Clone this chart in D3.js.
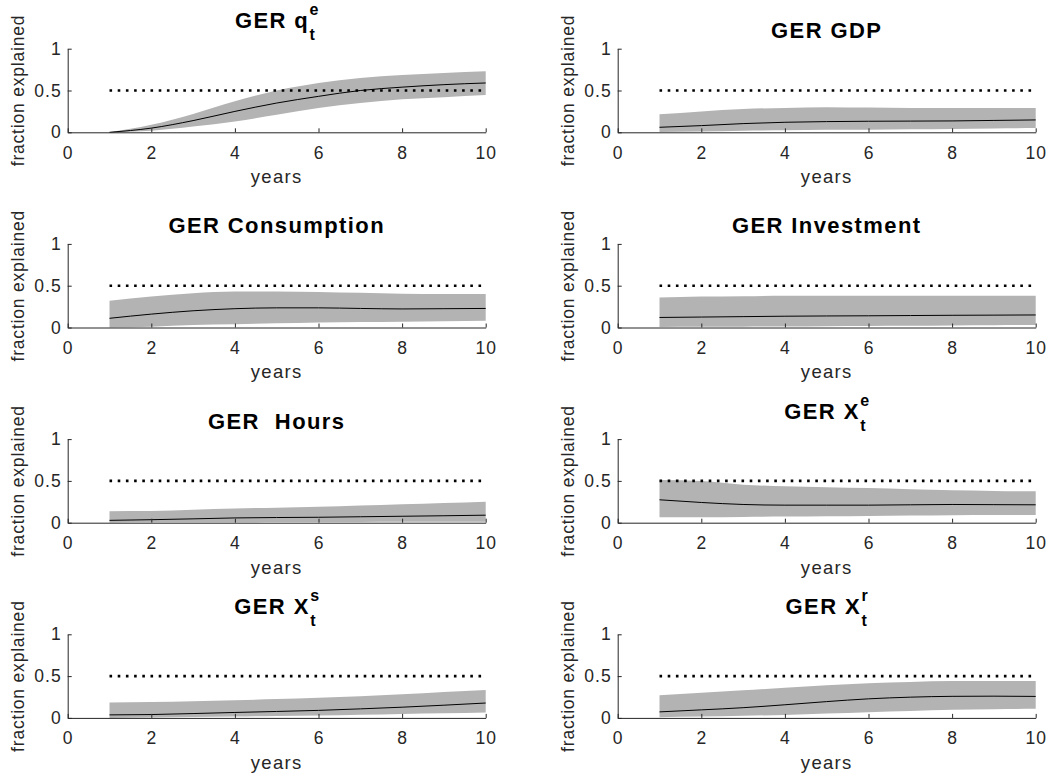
<!DOCTYPE html>
<html>
<head>
<meta charset="utf-8">
<script src="https://cdn.jsdelivr.net/npm/d3@7"></script>
<style>
  html, body { margin: 0; padding: 0; background: #ffffff; }
  svg { display: block; }
  text { font-family: "Liberation Sans", Arial, Helvetica, sans-serif; white-space: pre; }
</style>
</head>
<body>
<script>
// Horizons (years) and axis ticks
const years = [1, 2, 3, 4, 5, 6, 7, 8, 9, 10];
const xTicks = [0, 2, 4, 6, 8, 10];
const yTicks = [0, 0.5, 1];
const yTickLabels = ["0", "0.5", "1"];
const threshold = 0.5;

// Panel titles: main text, subscript, superscript
const titleMain = ["GER q", "GER GDP", "GER Consumption", "GER Investment", "GER  Hours", "GER X", "GER X", "GER X"];
const titleSub  = ["t", "", "", "", "", "t", "t", "t"];
const titleSup  = ["e", "", "", "", "", "e", "s", "r"];

// Fraction of variance explained: median and band bounds, per variable
const qeMedian = [0.00, 0.05, 0.14, 0.25, 0.35, 0.43, 0.50, 0.54, 0.57, 0.59];
const qeUpper  = [0.00, 0.09, 0.22, 0.37, 0.50, 0.59, 0.65, 0.685, 0.71, 0.73];
const qeLower  = [0.00, 0.02, 0.07, 0.13, 0.21, 0.29, 0.35, 0.395, 0.42, 0.445];

const gdpMedian = [0.06, 0.08, 0.104, 0.12, 0.128, 0.132, 0.134, 0.136, 0.142, 0.148];
const gdpUpper  = [0.215, 0.25, 0.28, 0.29, 0.30, 0.296, 0.292, 0.29, 0.29, 0.29];
const gdpLower  = [0.005, 0.01, 0.02, 0.025, 0.03, 0.03, 0.035, 0.04, 0.045, 0.05];

const consMedian = [0.11, 0.16, 0.20, 0.225, 0.235, 0.235, 0.228, 0.222, 0.225, 0.228];
const consUpper  = [0.32, 0.37, 0.41, 0.43, 0.43, 0.425, 0.415, 0.405, 0.40, 0.40];
const consLower  = [0.00, 0.01, 0.03, 0.04, 0.05, 0.06, 0.065, 0.07, 0.075, 0.08];

const invMedian = [0.12, 0.125, 0.13, 0.135, 0.138, 0.14, 0.143, 0.146, 0.148, 0.15];
const invUpper  = [0.36, 0.37, 0.375, 0.38, 0.38, 0.38, 0.38, 0.38, 0.38, 0.38];
const invLower  = [0.005, 0.008, 0.01, 0.012, 0.015, 0.018, 0.02, 0.025, 0.028, 0.03];

const hoursMedian = [0.028, 0.036, 0.046, 0.057, 0.062, 0.065, 0.071, 0.077, 0.083, 0.09];
const hoursUpper  = [0.138, 0.14, 0.155, 0.17, 0.18, 0.19, 0.205, 0.22, 0.235, 0.25];
const hoursLower  = [0.003, 0.004, 0.005, 0.006, 0.007, 0.008, 0.009, 0.01, 0.01, 0.011];

const xeMedian = [0.274, 0.242, 0.218, 0.21, 0.21, 0.21, 0.214, 0.218, 0.216, 0.214];
const xeUpper  = [0.51, 0.50, 0.455, 0.435, 0.425, 0.415, 0.40, 0.387, 0.38, 0.375];
const xeLower  = [0.065, 0.065, 0.069, 0.073, 0.077, 0.08, 0.085, 0.089, 0.091, 0.093];

const xsMedian = [0.036, 0.04, 0.052, 0.065, 0.077, 0.09, 0.108, 0.128, 0.152, 0.178];
const xsUpper  = [0.185, 0.19, 0.20, 0.21, 0.225, 0.24, 0.26, 0.282, 0.31, 0.335];
const xsLower  = [0.00, 0.005, 0.01, 0.016, 0.022, 0.028, 0.038, 0.048, 0.056, 0.065];

const xrMedian = [0.072, 0.096, 0.122, 0.157, 0.195, 0.228, 0.248, 0.258, 0.26, 0.257];
const xrUpper  = [0.27, 0.30, 0.33, 0.36, 0.39, 0.415, 0.43, 0.44, 0.44, 0.44];
const xrLower  = [0.008, 0.016, 0.026, 0.036, 0.052, 0.068, 0.082, 0.096, 0.103, 0.108];

const medians = [qeMedian, gdpMedian, consMedian, invMedian, hoursMedian, xeMedian, xsMedian, xrMedian];
const uppers  = [qeUpper, gdpUpper, consUpper, invUpper, hoursUpper, xeUpper, xsUpper, xrUpper];
const lowers  = [qeLower, gdpLower, consLower, invLower, hoursLower, xeLower, xsLower, xrLower];

// Figure layout: 4 rows x 2 columns of axes
const W = 1047, Hgt = 780;
const colLeft = [67.7, 617.7];
const axW = 418;
const rowTop0 = 48.7, rowStep = 195.2;
const axH = 83.6;

const axisColor = "#262626";
const bandColor = "#b3b3b3";

const svg = d3.select("body").append("svg")
  .attr("width", W).attr("height", Hgt);

medians.forEach((med, i) => {
  const col = i % 2, row = Math.floor(i / 2);
  const g = svg.append("g")
    .attr("transform", `translate(${colLeft[col]},${rowTop0 + row * rowStep})`);

  const x = d3.scaleLinear().domain([0, 10]).range([0, axW]);
  const y = d3.scaleLinear().domain([0, 1]).range([axH, 0]);

  const up = uppers[i], lo = lowers[i];

  // confidence band
  const band = d3.area()
    .x((d, j) => x(years[j]))
    .y0((d, j) => y(lo[j]))
    .y1((d, j) => y(up[j]))
    .curve(d3.curveMonotoneX);
  g.append("path").datum(med).attr("d", band)
    .attr("fill", bandColor).attr("stroke", "none");

  // median
  const line = d3.line()
    .x((d, j) => x(years[j]))
    .y(d => y(d))
    .curve(d3.curveMonotoneX);
  g.append("path").datum(med).attr("d", line)
    .attr("fill", "none").attr("stroke", "#000").attr("stroke-width", 1);

  // 50% reference
  g.append("line")
    .attr("x1", x(years[0])).attr("x2", x(years[years.length - 1]))
    .attr("y1", y(threshold)).attr("y2", y(threshold))
    .attr("stroke", "#000").attr("stroke-width", 2.6)
    .attr("stroke-dasharray", "2.6 5.6");

  // axes
  const xAxis = d3.axisBottom(x).tickValues(xTicks)
    .tickSizeInner(-4).tickSizeOuter(0).tickPadding(14)
    .tickFormat(d3.format("d"));
  const gx = g.append("g").attr("transform", `translate(0,${axH})`).call(xAxis);

  const yAxis = d3.axisLeft(y).tickValues(yTicks)
    .tickSizeInner(-4).tickSizeOuter(0).tickPadding(6)
    .tickFormat((d, j) => yTickLabels[j]);
  const gy = g.append("g").call(yAxis);

  [gx, gy].forEach(a => {
    a.select(".domain").attr("stroke", axisColor).attr("stroke-width", 1);
    a.selectAll(".tick line").attr("stroke", axisColor).attr("stroke-width", 1);
    a.selectAll(".tick text")
      .attr("fill", axisColor)
      .style("font-size", "17.5px")
      .style("letter-spacing", "1px");
  });

  // axis labels
  g.append("text")
    .attr("x", axW / 2).attr("y", axH + 51)
    .attr("text-anchor", "middle")
    .attr("fill", axisColor)
    .style("font-size", "18.5px").style("letter-spacing", "1.3px")
    .text("years");

  g.append("text")
    .attr("transform", `translate(-43.3,${axH / 2}) rotate(-90)`)
    .attr("text-anchor", "middle")
    .attr("fill", axisColor)
    .style("font-size", "17.5px").style("letter-spacing", "0.8px")
    .text("fraction explained");

  // title with optional sub/superscript
  const hasScript = titleSub[i] !== "" || titleSup[i] !== "";
  const baseY = hasScript ? -20.5 : -10.5;
  const tg = g.append("g");
  const tMain = tg.append("text")
    .attr("x", 0).attr("y", baseY)
    .attr("fill", "#000")
    .style("font-size", "22px").style("font-weight", "bold")
    .style("letter-spacing", "1.4px")
    .text(titleMain[i]);
  let totalW = tMain.node().getComputedTextLength();
  if (hasScript) {
    const sx = totalW + 0.5;
    const sSub = tg.append("text")
      .attr("x", sx).attr("y", baseY + 12)
      .attr("fill", "#000")
      .style("font-size", "16px").style("font-weight", "bold")
      .text(titleSub[i]);
    const sSup = tg.append("text")
      .attr("x", sx).attr("y", baseY - 13)
      .attr("fill", "#000")
      .style("font-size", "16px").style("font-weight", "bold")
      .text(titleSup[i]);
    totalW = sx + Math.max(sSub.node().getComputedTextLength(), sSup.node().getComputedTextLength());
  }
  tg.attr("transform", `translate(${axW / 2 - totalW / 2},0)`);
});
</script>
</body>
</html>
